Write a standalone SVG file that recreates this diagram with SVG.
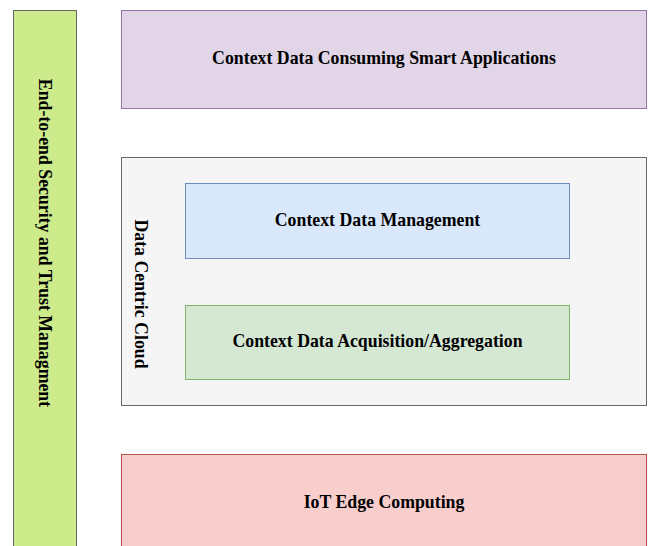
<svg xmlns="http://www.w3.org/2000/svg" width="652" height="546" viewBox="0 0 652 546">
<style>
text{font-family:"Liberation Serif","Times New Roman",serif;font-weight:bold;font-size:17.8px;fill:#000;text-anchor:middle;dominant-baseline:central}
rect{stroke-width:1}
</style>
<rect x="0" y="0" width="652" height="546" fill="#fff"/>
<g id="security">
<rect x="13.5" y="10.5" width="63" height="545" fill="#cdeb8b" stroke="#666666"/>
<text transform="translate(45,243) rotate(90)">End-to-end Security and Trust Managment</text>
</g>
<g id="apps">
<rect x="121.5" y="10.5" width="525" height="98" fill="#e1d5e7" stroke="#9673a6"/>
<text x="384" y="58">Context Data Consuming Smart Applications</text>
</g>
<g id="cloud">
<rect x="121.5" y="157.5" width="525" height="248" fill="#f5f5f5" stroke="#666666"/>
<text transform="translate(141,294) rotate(90)">Data Centric Cloud</text>
</g>
<g id="management">
<rect x="185.5" y="183.5" width="384" height="75" fill="#dae8fc" stroke="#6c8ebf"/>
<text x="377.5" y="220">Context Data Management</text>
</g>
<g id="acquisition">
<rect x="185.5" y="305.5" width="384" height="74" fill="#d5e8d4" stroke="#82b366"/>
<text x="377.5" y="341">Context Data Acquisition/Aggregation</text>
</g>
<g id="edge">
<rect x="121.5" y="454.5" width="525" height="100" fill="#f8cecc" stroke="#b85450"/>
<text x="384" y="502">IoT Edge Computing</text>
</g>
<g id="connectors"></g>
</svg>
